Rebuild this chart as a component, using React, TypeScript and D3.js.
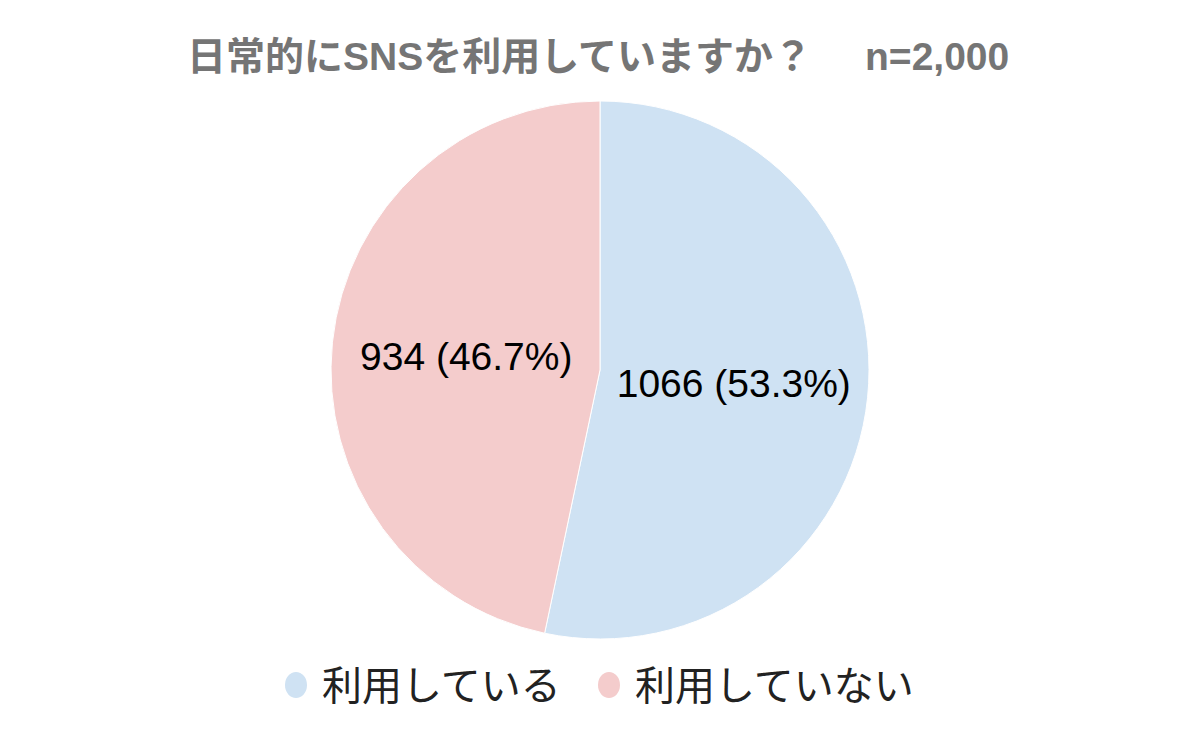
import React from "react";
import * as d3 from "d3";

const categories = ["利用している", "利用していない"];
const values = [1066, 934];
const colors = ["#cfe2f3", "#f4cccc"];
const titleMain = "日常的にSNSを利用していますか？";
const titleN = "n=2,000";

const W = 1200;
const H = 742;
const cx = 600;
const cy = 370;
const R = 269;
const FONT = "'Liberation Sans', Arial, 'Noto Sans CJK JP', sans-serif";

export default function App() {
  const total = d3.sum(values);
  const pie = d3.pie<number>().sort(null).startAngle(0).endAngle(2 * Math.PI);
  const arcs = pie(values);
  const arc = d3.arc<d3.PieArcDatum<number>>().innerRadius(0).outerRadius(R);
  const labelArc = d3.arc<d3.PieArcDatum<number>>().innerRadius(R * 0.5).outerRadius(R * 0.5);

  const legendX = [296, 609];

  return (
    <svg width={W} height={H} style={{ position: "absolute", left: 0, top: 0, background: "#fff" }}>
      <text x={187} y={70} fontFamily={FONT} fontWeight="bold" fontSize={39} fill="#757575">
        <tspan>{titleMain}</tspan>
        <tspan dx={53}>{titleN}</tspan>
      </text>
      <g transform={`translate(${cx},${cy})`}>
        {arcs.map((a, i) => (
          <path key={i} d={arc(a) || ""} fill={colors[i]} stroke="#ffffff" strokeWidth={1} />
        ))}
        {arcs.map((a, i) => {
          const [lx, ly] = labelArc.centroid(a);
          const pct = ((values[i] / total) * 100).toFixed(1);
          return (
            <text key={i} x={lx} y={ly} textAnchor="middle" dominantBaseline="central" fontFamily={FONT} fontSize={39} fill="#000">
              {`${values[i]} (${pct}%)`}
            </text>
          );
        })}
      </g>
      {categories.map((c, i) => (
        <g key={c}>
          <ellipse cx={legendX[i]} cy={685} rx={11} ry={13} fill={colors[i]} />
          <text x={legendX[i] + 26} y={700} fontFamily={FONT} fontSize={40} fill="#222">
            {c}
          </text>
        </g>
      ))}
    </svg>
  );
}
